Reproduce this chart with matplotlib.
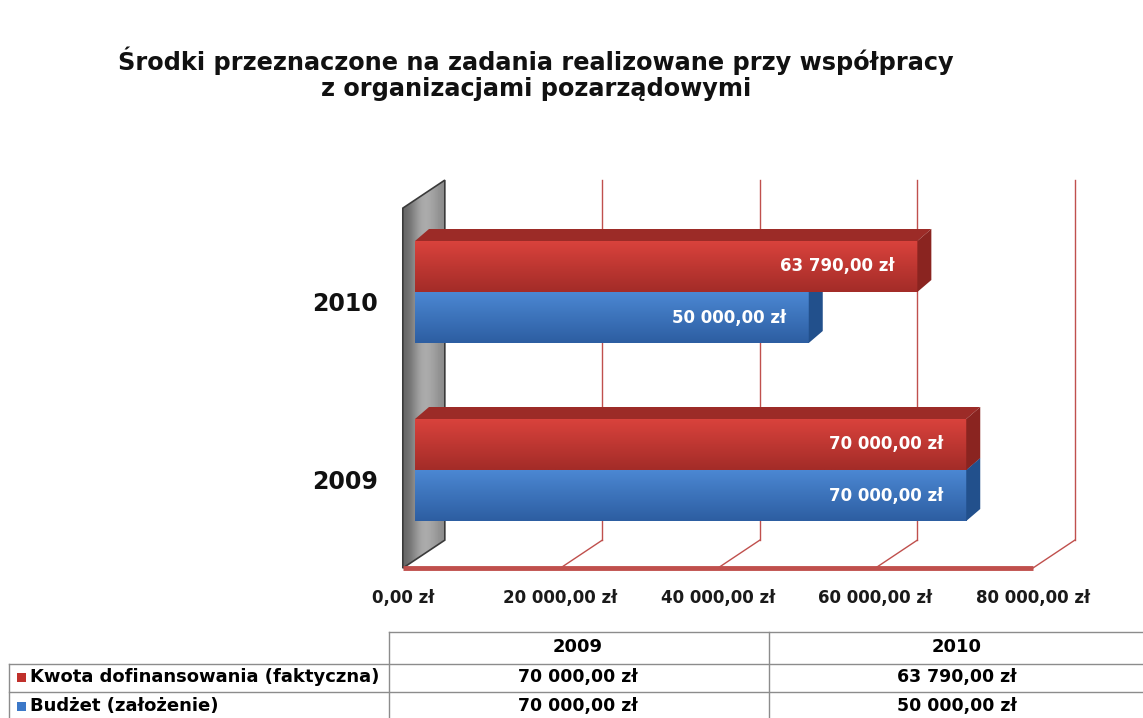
import numpy as np
import matplotlib
matplotlib.use("Agg")
import matplotlib.pyplot as plt
from matplotlib.patches import Polygon
from matplotlib.lines import Line2D

# ── Data ───────────────────────────────────────────────────────────────────
years = ["2009", "2010"]
kwota = [70000, 63790]     # Kwota dofinansowania (faktyczna)
budzet = [70000, 50000]    # Budżet (założenie)
series_names = ["Kwota dofinansowania (faktyczna)", "Budżet (założenie)"]
x_ticks = [0, 20000, 40000, 60000, 80000]
title = "Środki przeznaczone na zadania realizowane przy współpracy\nz organizacjami pozarządowymi"


def zl(v):
    return f"{v:,.2f}".replace(",", " ").replace(".", ",") + " zł"


plt.rcParams.update({"font.family": "DejaVu Sans", "font.weight": "bold"})

W, H = 1143, 718
fig = plt.figure(figsize=(W / 100, H / 100), dpi=100)
fig.patch.set_facecolor("white")

# ── Axes laid out in pixels, data in zł / category units ───────────────────
ax_l, ax_r, ax_t, ax_b = 360, 1110, 160, 590
ax = fig.add_axes([ax_l / W, 1 - ax_b / H, (ax_r - ax_l) / W, (ax_b - ax_t) / H])
sx = 157.5 / 20000        # px per zł
sy = 178                  # px per category
x0_px, y0_px = 415, 470   # bar origin, 2009 centre
ax.set_xlim((ax_l - x0_px) / sx, (ax_r - x0_px) / sx)
ax.set_ylim((y0_px - ax_b) / sy, (y0_px - ax_t) / sy)
ax.axis("off")

# depth (oblique projection)
T0 = 0.29
DX, DY = 42 / sx, 28 / sy
BDX, BDY = 14 / sx, 12 / sy
bar_h = 51 / sy
floor_y = (y0_px - 560) / sy
top_y = (y0_px - 200) / sy
grid_c = "#c0504d"


def P(v, y, t):
    return (v + (t - T0) * DX, y + (t - T0) * DY)


# left wall
wall = Polygon([P(0, floor_y, 0), P(0, top_y, 0), P(0, top_y, 1), P(0, floor_y, 1)],
               closed=True, facecolor="none", edgecolor="#3a3a3a", lw=1.2, zorder=3)
ax.add_patch(wall)
wx0, wy0 = P(0, floor_y, 0)
wx1, wy1 = P(0, top_y, 1)
grad = np.array([[0.40, 0.52, 0.66, 0.68, 0.62, 0.55]])
im = ax.imshow(grad, cmap="gray", vmin=0, vmax=1, extent=[wx0, wx1, wy0, wy1],
               aspect="auto", interpolation="bicubic", zorder=2)
im.set_clip_path(wall)

# back gridlines + floor
for v in x_ticks[1:]:
    ax.plot(*zip(P(v, floor_y, 1), P(v, top_y, 1)), color=grid_c, lw=1, zorder=1)
    ax.plot(*zip(P(v, floor_y, 0), P(v, floor_y, 1)), color=grid_c, lw=1, zorder=1)
ax.plot(*zip(P(0, floor_y, 0), P(x_ticks[-1], floor_y, 0)), color=grid_c, lw=3.5,
        solid_capstyle="butt", zorder=4)

for v in x_ticks:
    fx, fy = P(v, floor_y, 0)
    ax.text(fx, fy - 30 / sy, zl(v), ha="center", va="center", fontsize=12,
            color="#1a1a1a")


# ── Bars ───────────────────────────────────────────────────────────────────
def bar(v, yb, front_top, front_bot, top_c, end_c, label):
    yt = yb + bar_h
    g = np.linspace(0, 1, 50)[:, None, None]
    c1 = np.array(matplotlib.colors.to_rgb(front_top))
    c2 = np.array(matplotlib.colors.to_rgb(front_bot))
    img = np.repeat(c1 * (1 - g) + c2 * g, 2, axis=1)
    ax.imshow(img, extent=[0, v, yb, yt], aspect="auto", interpolation="bilinear", zorder=5)
    ax.add_patch(Polygon([(0, yt), (v, yt), (v + BDX, yt + BDY), (BDX, yt + BDY)],
                         facecolor=top_c, edgecolor="none", zorder=5))
    ax.add_patch(Polygon([(v, yb), (v, yt), (v + BDX, yt + BDY), (v + BDX, yb + BDY)],
                         facecolor=end_c, edgecolor="none", zorder=5))
    ax.text(v - 23 / sx, (yb + yt) / 2, label, ha="right", va="center",
            fontsize=12, color="white", zorder=6)


for i, yr in enumerate(years):
    bar(budzet[i], i - bar_h, "#4b87d2", "#2d5ea2", "#3a70b8", "#22508c", zl(budzet[i]))
    bar(kwota[i], i, "#d9423c", "#a32c28", "#9c2b27", "#8a2420", zl(kwota[i]))
    ax.text((378 - x0_px) / sx, i - 12 / sy, yr, ha="right", va="center",
            fontsize=17, color="#111111")

# ── Title ──────────────────────────────────────────────────────────────────
fig.text(536 / W, 1 - 74 / H, title, ha="center", va="center", fontsize=17.3,
         linespacing=1.12, color="#111111")

# ── Data table ─────────────────────────────────────────────────────────────
def hline(y, xa, xb):
    fig.add_artist(Line2D([xa / W, xb / W], [1 - y / H, 1 - y / H], color="#8c8c8c", lw=1))


def vline(x, ya, yb):
    fig.add_artist(Line2D([x / W, x / W], [1 - ya / H, 1 - yb / H], color="#8c8c8c", lw=1))


hline(632, 389, W)
hline(664, 9, W)
hline(692, 9, W)
vline(9, 664, H)
vline(389, 632, H)
vline(769, 632, H)

col_x = [578, 957]
for j, yr in enumerate(years):
    fig.text(col_x[j] / W, 1 - 647 / H, yr, ha="center", va="center", fontsize=13)
row_y = [677, 706]
row_vals = [kwota, budzet]
row_cols = ["#c0302b", "#3c78c8"]
for r in range(2):
    fig.add_artist(plt.Rectangle((17 / W, 1 - (row_y[r] + 5) / H), 9 / W, 9 / H,
                                 facecolor=row_cols[r], edgecolor="none"))
    fig.text(30 / W, 1 - row_y[r] / H, series_names[r], ha="left", va="center", fontsize=13)
    for j in range(2):
        fig.text(col_x[j] / W, 1 - row_y[r] / H, zl(row_vals[r][j]), ha="center",
                 va="center", fontsize=12.5)

fig.savefig("out.png", dpi=100)
